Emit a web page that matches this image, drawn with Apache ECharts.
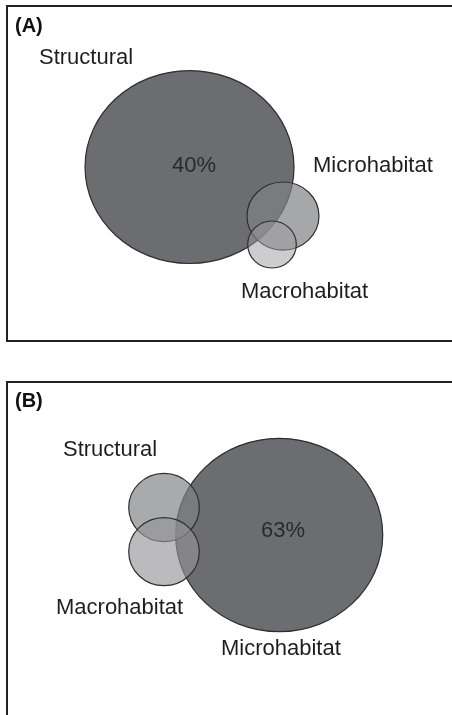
<!DOCTYPE html>
<html>
<head>
<meta charset="utf-8">
<script src="https://cdn.jsdelivr.net/npm/echarts@6/dist/echarts.min.js"></script>
<style>
html, body { margin: 0; padding: 0; background: #fff; }
#chart { width: 452px; height: 715px; }
</style>
</head>
<body>
<div id="chart"></div>
<script>
// panel A: variance partitioning, Structural dominates
// [centre x, centre y, radius x, radius y] in plot units (1 unit = 4.5 px)
const namesA = ['Structural', 'Microhabitat', 'Macrohabitat'];
const circlesA = [
	[40.56, 35.78, 23.22, 21.44],
	[61.33, 46.67, 8.0, 7.56],
	[58.89, 53.0, 5.4, 5.22]
];
const pctA = 40;

// panel B: Microhabitat dominates
const namesB = ['Microhabitat', 'Structural', 'Macrohabitat'];
const circlesB = [
	[60.49, 34.0, 23.0, 21.49],
	[34.89, 27.89, 7.84, 7.6],
	[34.89, 37.71, 7.84, 7.56]
];
const pctB = 63;

const fillsA = ['#6c6d71', 'rgba(128,129,133,0.7)', 'rgba(155,156,160,0.5)'];
const fillsB = ['#6c6d71', 'rgba(128,129,133,0.68)', 'rgba(147,148,152,0.63)'];

const font = '"Liberation Sans", Arial, sans-serif';

function venn(fills) {
	return function(params, api) {
		const c = api.coord([api.value(0), api.value(1)]);
		const s = api.size([api.value(2), api.value(3)]);
		return {
			type: 'ellipse',
			shape: { cx: c[0], cy: c[1], rx: s[0], ry: s[1] },
			style: { fill: fills[params.dataIndex], stroke: '#2e2e2e', lineWidth: 1.2 }
		};
	};
}

function label(text, x, y, opts) {
	opts = opts || {};
	return {
		type: 'text',
		silent: true,
		z: 100,
		style: {
			text: text,
			x: x,
			y: y,
			fill: opts.fill || '#1e1e1e',
			font: (opts.bold ? 'bold ' : '') + (opts.size || 22) + 'px ' + font,
			textAlign: opts.align || 'left',
			textVerticalAlign: 'middle'
		}
	};
}

const chart = echarts.init(document.getElementById('chart'));
chart.setOption({
	backgroundColor: '#fff',
	animation: false,
	grid: [
		{ left: 7, top: 6, width: 450, height: 335, outerBoundsMode: 'none', show: true, borderColor: '#222', borderWidth: 2 },
		{ left: 7, top: 382, width: 450, height: 337.5, outerBoundsMode: 'none', show: true, borderColor: '#222', borderWidth: 2 }
	],
	xAxis: [
		{ gridIndex: 0, type: 'value', min: 0, max: 100, show: false },
		{ gridIndex: 1, type: 'value', min: 0, max: 100, show: false }
	],
	yAxis: [
		{ gridIndex: 0, type: 'value', min: 0, max: 335 / 4.5, inverse: true, show: false },
		{ gridIndex: 1, type: 'value', min: 0, max: 75, inverse: true, show: false }
	],
	series: [
		{ type: 'custom', xAxisIndex: 0, yAxisIndex: 0, renderItem: venn(fillsA), data: circlesA, silent: true, clip: false },
		{ type: 'custom', xAxisIndex: 1, yAxisIndex: 1, renderItem: venn(fillsB), data: circlesB, silent: true, clip: false }
	],
	graphic: [
		label('(A)', 15, 26, { bold: true, size: 20, fill: '#111' }),
		label(namesA[0], 39, 58),
		label(pctA + '%', 194, 166, { align: 'center', fill: '#2a2a2a' }),
		label(namesA[1], 313, 166),
		label(namesA[2], 241, 292),
		label('(B)', 15, 401, { bold: true, size: 20, fill: '#111' }),
		label(namesB[1], 63, 450),
		label(pctB + '%', 283, 531, { align: 'center', fill: '#2a2a2a' }),
		label(namesB[2], 56, 608),
		label(namesB[0], 221, 649)
	]
});
</script>
</body>
</html>
